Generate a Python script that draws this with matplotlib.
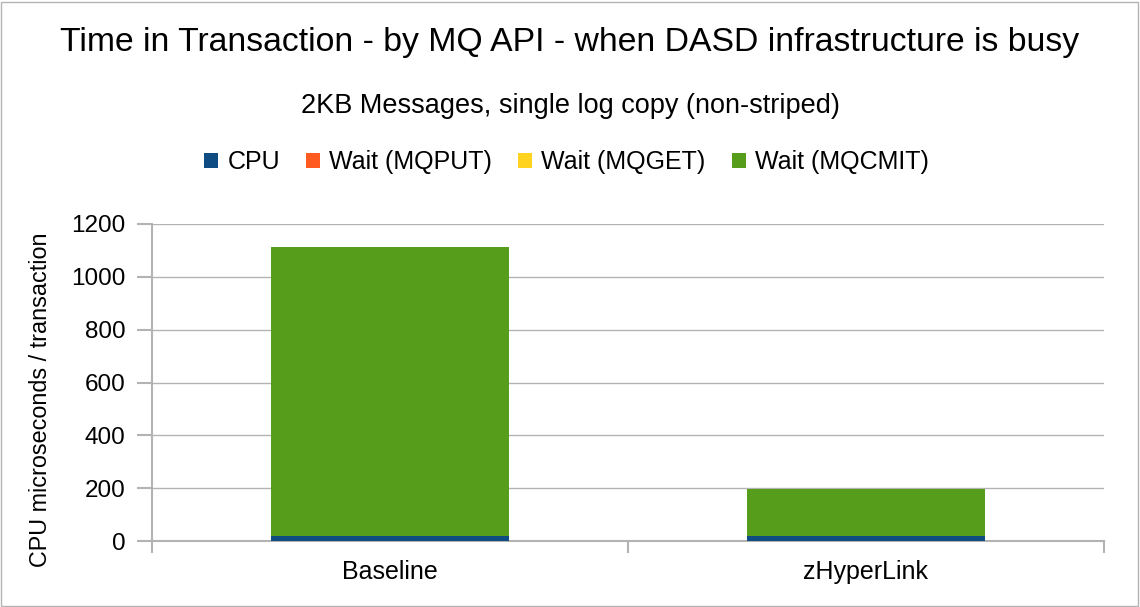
import matplotlib
matplotlib.use("Agg")
import matplotlib.pyplot as plt
from matplotlib.patches import Rectangle

categories = ["Baseline", "zHyperLink"]
series_names = ["CPU", "Wait (MQPUT)", "Wait (MQGET)", "Wait (MQCMIT)"]
cpu = [18, 18]
wait_mqput = [0, 0]
wait_mqget = [0, 0]
wait_mqcmit = [1095, 180]
colors = ["#0f4c81", "#ff5a1f", "#ffd320", "#579d1c"]
yticks = [0, 200, 400, 600, 800, 1000, 1200]

plt.rcParams['font.family'] = ['Liberation Sans', 'DejaVu Sans']

W, H = 1140, 607
fig = plt.figure(figsize=(W / 100, H / 100), dpi=100)
fig.patch.set_facecolor("white")
fig.add_artist(Rectangle((1 / W, 1 / H), 1 - 3 / W, 1 - 3 / H, transform=fig.transFigure,
                         fill=False, edgecolor="#b3b3b3", lw=1))

x0, x1 = 152, 1104
ytop, ybot = 224, 541
ax = fig.add_axes([x0 / W, 1 - ybot / H, (x1 - x0) / W, (ybot - ytop) / H])

series = [cpu, wait_mqput, wait_mqget, wait_mqcmit]
pos = list(range(len(categories)))
bottom = [0] * len(categories)
handles = []
for name, vals, c in zip(series_names, series, colors):
    b = ax.bar(pos, vals, width=0.5, bottom=bottom, color=c, label=name, zorder=3)
    handles.append(b)
    bottom = [bb + v for bb, v in zip(bottom, vals)]

ax.set_xlim(-0.5, len(categories) - 0.5)
ax.set_ylim(0, 1200)
ax.set_yticks(yticks)
ax.set_yticklabels([str(t) for t in yticks], fontsize=17.5)
ax.set_xticks(pos)
ax.set_xticklabels(categories, fontsize=18)
ax.tick_params(axis='x', length=0, pad=14)
ax.tick_params(axis='y', length=11, color="#b3b3b3", width=1.5, pad=8)
ax.grid(axis='y', color="#b3b3b3", lw=1, zorder=0)
for s in ["top", "right"]:
    ax.spines[s].set_visible(False)
ax.spines["left"].set_color("#b3b3b3")
ax.spines["left"].set_linewidth(1.5)
ax.spines["bottom"].set_color("#b3b3b3")
ax.spines["bottom"].set_linewidth(1.5)
for xb in [-0.5, 0.5, 1.5]:
    ax.plot([xb, xb], [0, -0.035], transform=ax.get_xaxis_transform(), color="#b3b3b3",
            lw=1.5, clip_on=False)
ax.set_ylabel("CPU microseconds / transaction", fontsize=16.8)
ax.yaxis.set_label_coords(-0.105, 0.445)

fig.text(0.5, 1 - 42 / H, "Time in Transaction - by MQ API - when DASD infrastructure is busy",
         ha="center", va="center", fontsize=24.3)
fig.text(0.5, 1 - 106 / H, "2KB Messages, single log copy (non-striped)",
         ha="center", va="center", fontsize=19.5)
fig.legend(handles=handles, labels=series_names, loc="center", ncol=4,
           bbox_to_anchor=(0.497, 1 - 162 / H), frameon=False, fontsize=18,
           handlelength=0.56, handleheight=0.56, handletextpad=0.36, columnspacing=1.05)

fig.savefig("out.png", dpi=100)
